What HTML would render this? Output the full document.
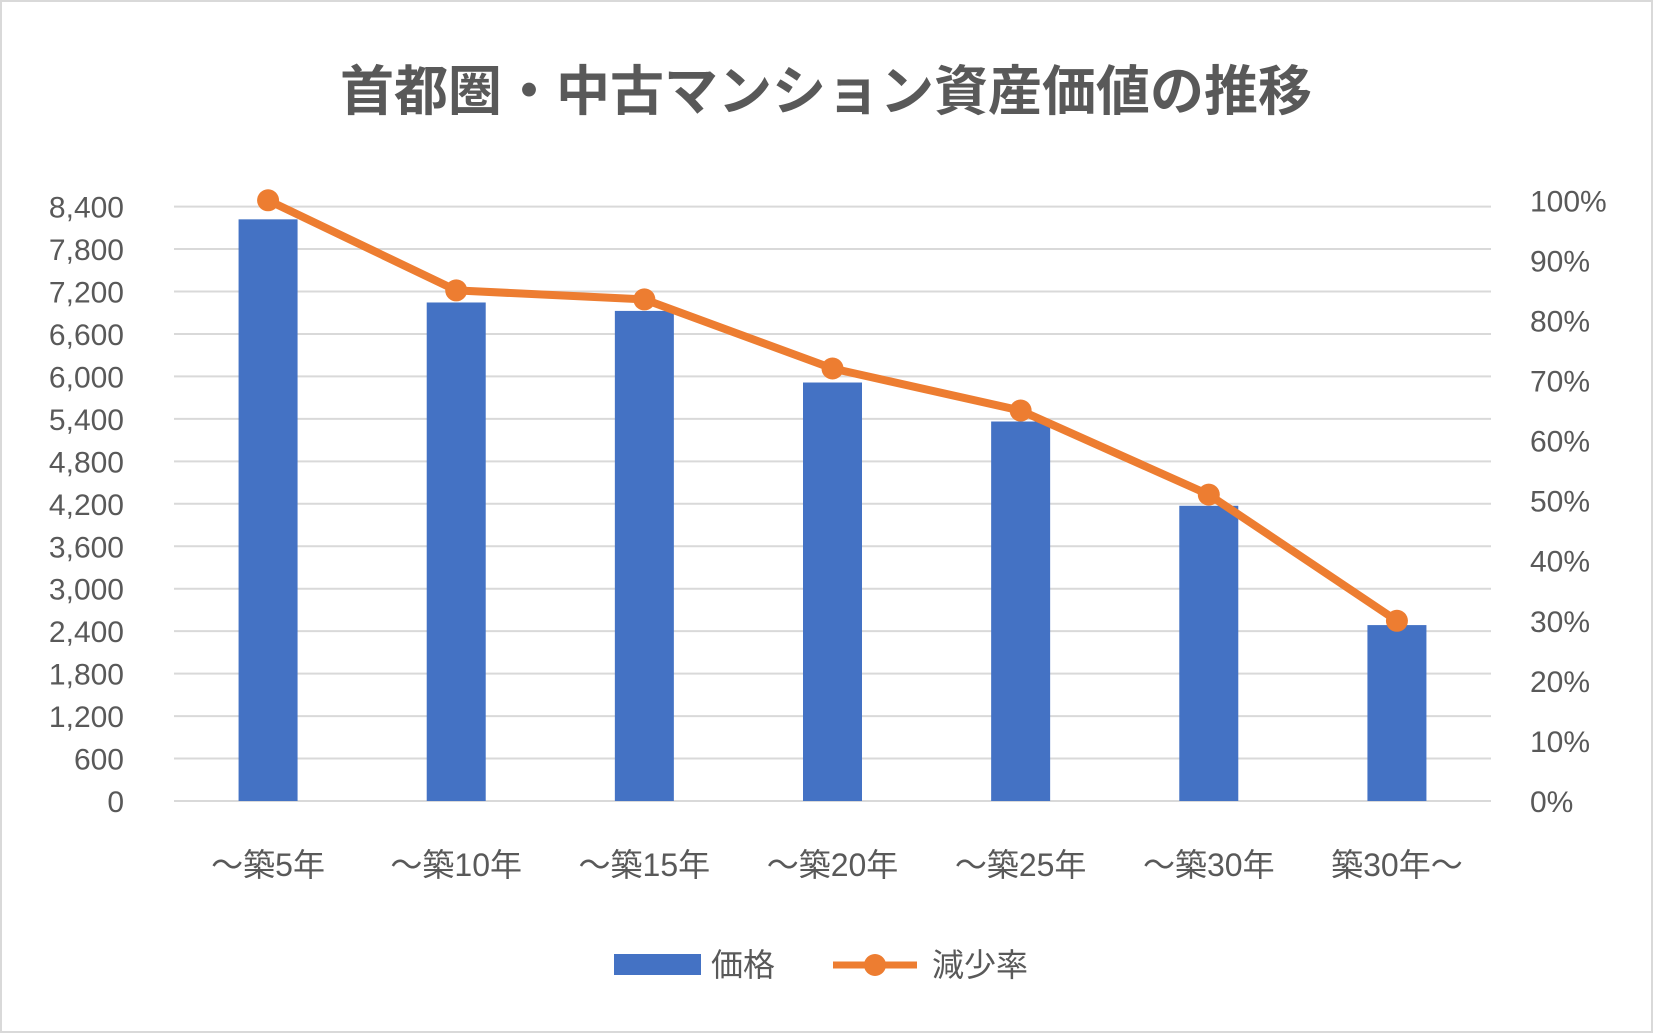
<!DOCTYPE html>
<html><head><meta charset="utf-8"><style>
body{margin:0;background:#fff}
svg{display:block}
text{font-family:"Liberation Sans","Noto Sans CJK JP",sans-serif;fill:#595959}
</style></head><body>
<svg id="chart" width="1653" height="1033" viewBox="0 0 1653 1033">
<rect x="1" y="1" width="1651" height="1031" fill="#fff" stroke="#d9d9d9" stroke-width="2"/>
<text x="826" y="110" text-anchor="middle" font-size="54" font-weight="bold">首都圏・中古マンション資産価値の推移</text>
<g id="grid"></g><g id="bars"></g><g id="line"></g><g id="labels"></g>
<g>
<rect x="614" y="954" width="87" height="21" fill="#4472c4"/>
<text x="711" y="976" font-size="32">価格</text>
<line x1="833" y1="965" x2="917" y2="965" stroke="#ed7d31" stroke-width="7"/>
<circle cx="875" cy="965" r="11" fill="#ed7d31"/>
<text x="932" y="976" font-size="32">減少率</text>
</g>
</svg>
<script>
const categories=["～築5年","～築10年","～築15年","～築20年","～築25年","～築30年","築30年～"];
const prices=[8220,7045,6926,5914,5363,4172,2486];
const rates=[100,85,83.5,72,65,51,30];
const leftTicks=[0,600,1200,1800,2400,3000,3600,4200,4800,5400,6000,6600,7200,7800,8400];
const rightTicks=[0,10,20,30,40,50,60,70,80,90,100];
const X0=174,X1=1491,Y0=801;
const yL=v=>Y0-v*(801-206.6)/8400;
const yR=v=>Y0-v*(801-200.3)/100;
const bw=(X1-X0)/categories.length;
const xC=i=>X0+bw*(i+0.5);
const NS="http://www.w3.org/2000/svg";
function mk(p,tag,a){const e=document.createElementNS(NS,tag);for(const k in a)e.setAttribute(k,a[k]);p.appendChild(e);return e;}
const g=document.getElementById('grid'),b=document.getElementById('bars'),l=document.getElementById('line'),lb=document.getElementById('labels');
leftTicks.forEach(v=>{
 const ln=mk(g,'line',{x1:X0,x2:X1,y1:yL(v),y2:yL(v),stroke:'#d9d9d9','stroke-width':2});
 
 
 const t=mk(lb,'text',{x:124,y:yL(v)+11,'text-anchor':'end','font-size':30});
 t.textContent=v.toLocaleString('en-US');
 
 
});
rightTicks.forEach(v=>{
 const t=mk(lb,'text',{x:1530,y:yR(v)+11,'font-size':30});
 t.textContent=v+'%';
 
 
});
categories.forEach((c,i)=>{
 const r=mk(b,'rect',{x:xC(i)-29.5,y:yL(prices[i]),width:59,height:Y0-yL(prices[i]),fill:'#4472c4'});
 
 
 const t=mk(lb,'text',{x:xC(i),y:876,'text-anchor':'middle','font-size':32});
 t.textContent=c;
 
 
});
const pl=mk(l,'polyline',{points:rates.map((v,i)=>xC(i)+','+yR(v)).join(' '),fill:'none',stroke:'#ed7d31','stroke-width':8,'stroke-linejoin':'round'});


rates.forEach((v,i)=>{
 const c=mk(l,'circle',{cx:xC(i),cy:yR(v),r:11,fill:'#ed7d31'});
 
 
});
</script>
</body></html>
